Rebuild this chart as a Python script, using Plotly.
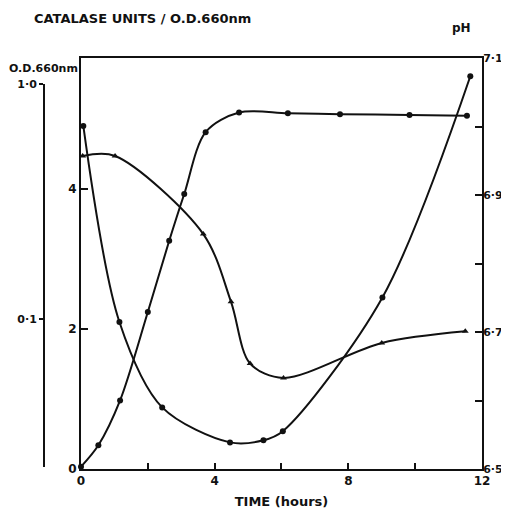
import plotly.graph_objects as go

# ---- data ----
od_time = [0, 0.52, 1.17, 2.0, 2.64, 3.09, 3.73, 4.73, 6.19, 7.75, 9.83, 11.55]
od_660 = [0.0235, 0.029, 0.045, 0.107, 0.215, 0.340, 0.623, 0.755, 0.750, 0.743, 0.738, 0.732]

cat_time = [0.07, 1.15, 2.43, 4.46, 5.46, 6.04, 9.02, 11.65]
catalase = [4.90, 2.10, 0.88, 0.38, 0.41, 0.54, 2.45, 5.61]

ph_time = [0.05, 1.02, 3.66, 4.49, 5.06, 6.06, 9.0, 11.5]
ph = [6.957, 6.957, 6.843, 6.744, 6.654, 6.633, 6.684, 6.701]

x_ticks = [0, 2, 4, 6, 8, 10, 12]
x_ticktext = ["0", "", "4", "", "8", "", "12"]
cat_ticks = [0, 2, 4]
ph_ticks = [6.5, 6.6, 6.7, 6.8, 6.9, 7.0, 7.1]
ph_ticktext = ["6·5", "", "6·7", "", "6·9", "", "7·1"]
od_ticks = [0.1, 1.0]
od_ticktext = ["0·1", "1·0"]

FONT = "DejaVu Sans"
BLACK = "#111111"

fig = go.Figure()

line = dict(color=BLACK, width=2, shape="spline", smoothing=0.9)

fig.add_trace(go.Scatter(x=od_time, y=od_660, mode="lines+markers",
                         line=line, marker=dict(symbol="circle", size=6, color=BLACK),
                         xaxis="x", yaxis="y3", cliponaxis=False, name="OD"))
fig.add_trace(go.Scatter(x=cat_time, y=catalase, mode="lines+markers",
                         line=line, marker=dict(symbol="circle", size=6, color=BLACK),
                         xaxis="x", yaxis="y", cliponaxis=False, name="catalase"))
fig.add_trace(go.Scatter(x=ph_time, y=ph, mode="lines+markers",
                         line=line, marker=dict(symbol="triangle-up", size=6, color=BLACK),
                         xaxis="x", yaxis="y2", cliponaxis=False, name="pH"))

tickfont = dict(family=FONT, size=12, color=BLACK, weight="bold")
rightfont = dict(family=FONT, size=11, color=BLACK, weight="bold")

# page body adds an 8px offset; figure is 501x503 so it fills the 509x511 window
# plot area in window pixels: x 30..482, y 58..469
fig.update_layout(
    width=501, height=503,
    margin=dict(l=22, r=27, t=50, b=42, autoexpand=False),
    paper_bgcolor="white", plot_bgcolor="rgba(0,0,0,0)",
    showlegend=False,
    font=dict(family=FONT, color=BLACK),
    xaxis=dict(domain=[0.1128, 1], range=[0, 12], tickvals=x_ticks, ticktext=x_ticktext,
               ticks="inside", ticklen=6, tickwidth=2, tickcolor=BLACK,
               showline=True, linewidth=2, linecolor=BLACK, mirror=True, automargin=False,
               showgrid=False, zeroline=False, tickfont=tickfont, anchor="y",
               title=dict(text="<b>TIME (hours)</b>", font=dict(family=FONT, size=13, color=BLACK),
                          standoff=9)),
    yaxis=dict(range=[0, 5.87], tickvals=cat_ticks, ticks="inside", ticklen=7, tickwidth=2,
               tickcolor=BLACK, showline=True, linewidth=2, linecolor=BLACK, automargin=False,
               showgrid=False, zeroline=False, tickfont=tickfont, anchor="x"),
    yaxis2=dict(range=[6.5, 7.1], overlaying="y", side="right", anchor="x",
                tickvals=ph_ticks, ticktext=ph_ticktext, ticks="inside", ticklen=7,
                tickwidth=2, tickcolor=BLACK, showline=True, linewidth=2, linecolor=BLACK,
                automargin=False, showgrid=False, zeroline=False, tickfont=rightfont,
                ticklabelstandoff=-3),
    yaxis3=dict(type="log", range=[-1.630, 0], domain=[0.005, 0.937], anchor="free",
                position=0.031, side="left", tickvals=od_ticks, ticktext=od_ticktext,
                ticks="outside", ticklen=4, tickwidth=2, tickcolor=BLACK, automargin=False,
                showline=True, linewidth=2, linecolor=BLACK, showgrid=False,
                zeroline=False, tickfont=rightfont),
)

fig.add_annotation(text="<b>CATALASE UNITS / O.D.660nm</b>", xref="paper", yref="paper",
                   x=0.005, y=1.0, yshift=40, xanchor="left", yanchor="middle", showarrow=False,
                   font=dict(family=FONT, size=13, color=BLACK))
fig.add_annotation(text="<b>pH</b>", xref="paper", yref="paper",
                   x=0.955, y=1.0, yshift=30, xanchor="center", yanchor="middle", showarrow=False,
                   font=dict(family=FONT, size=12, color=BLACK))
fig.add_annotation(text="<b>O.D.660nm</b>", xref="paper", yref="paper",
                   x=-0.05, y=0.975, xanchor="left", yanchor="middle", showarrow=False,
                   font=dict(family=FONT, size=11, color=BLACK))

fig.write_html("out.html")
